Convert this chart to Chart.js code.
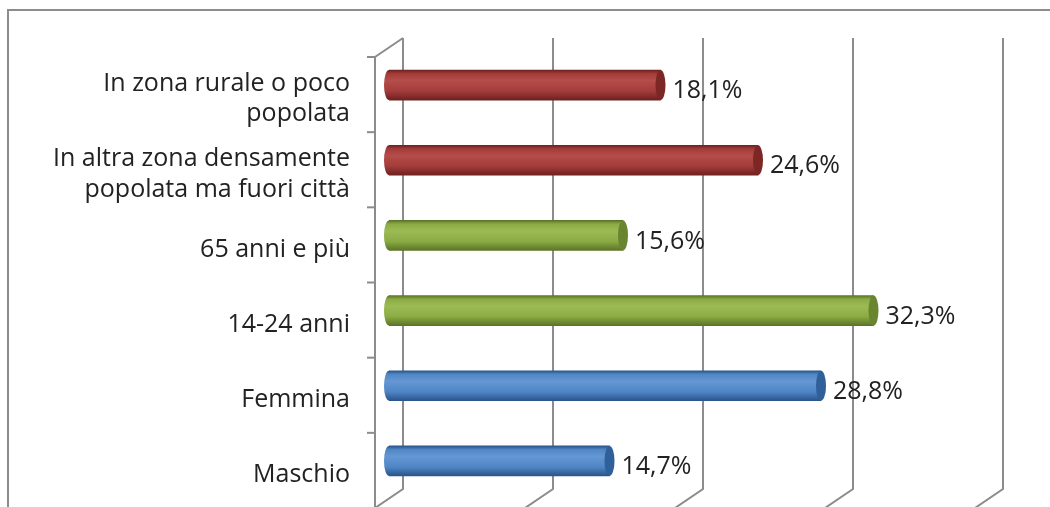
<!DOCTYPE html>
<html>
<head>
<meta charset="utf-8">
<script src="https://cdnjs.cloudflare.com/ajax/libs/Chart.js/4.4.1/chart.umd.min.js"></script>
<style>
  html, body { margin: 0; padding: 0; background: #fff; }
  #wrap { width: 1050px; height: 507px; position: relative; }
</style>
</head>
<body>
<div id="wrap"><canvas id="chart"></canvas></div>
<script>
// data (top to bottom)
const categories = [
  ['In zona rurale o poco', 'popolata'],
  ['In altra zona densamente', 'popolata ma fuori città'],
  '65 anni e più',
  '14-24 anni',
  'Femmina',
  'Maschio',
];
const values = [18.1, 24.6, 15.6, 32.3, 28.8, 14.7];
const groups = ['red', 'red', 'green', 'green', 'blue', 'blue'];

const COLORS = {
  red:   { dark: '#6e2120', body: '#a33c3a', light: '#b54d4a', cap: '#7c2725' },
  green: { dark: '#5c7428', body: '#8bab43', light: '#9cbb55', cap: '#6a8530' },
  blue:  { dark: '#2a548a', body: '#4f86c6', light: '#6597d3', cap: '#30609a' },
};

const DX = 14, DY = 9.5;       // half depth of the 3D box
const GRID = '#8c8c8c';
const FONT = '"Open Sans", "DejaVu Sans", sans-serif';
const FSIZE = 25;

function cylGradient(ctx, y, h, c) {
  if (!isFinite(y) || !isFinite(h)) return c.body;
  const g = ctx.createLinearGradient(0, y - h / 2, 0, y + h / 2);
  g.addColorStop(0, c.dark);
  g.addColorStop(0.12, c.body);
  g.addColorStop(0.35, c.light);
  g.addColorStop(0.7, c.body);
  g.addColorStop(1, c.dark);
  return g;
}

const box3d = {
  id: 'box3d',
  beforeDraw(chart) {
    const ctx = chart.ctx;
    ctx.save();
    ctx.strokeStyle = GRID;
    ctx.lineWidth = 2;
    ctx.beginPath();
    ctx.moveTo(8, 507); ctx.lineTo(8, 10); ctx.lineTo(1050, 10);
    ctx.stroke();
    ctx.restore();
  },
  beforeDatasetsDraw(chart) {
    const { ctx, chartArea: a, scales: { x } } = chart;
    ctx.save();
    ctx.strokeStyle = GRID;
    ctx.lineWidth = 2;
    // back walls + floor slants
    x.ticks.forEach(t => {
      const px = x.getPixelForValue(t.value);
      ctx.beginPath();
      ctx.moveTo(px + DX, a.top - DY);
      ctx.lineTo(px + DX, a.bottom - DY);
      ctx.lineTo(px - DX, a.bottom + DY);
      ctx.stroke();
    });
    // front axis
    const x0 = x.getPixelForValue(0) - DX;
    ctx.beginPath();
    ctx.moveTo(x0 + 2 * DX, a.top - DY);
    ctx.lineTo(x0, a.top + DY);
    ctx.lineTo(x0, a.bottom + DY);
    ctx.stroke();
    // category tick marks
    const n = categories.length;
    const step = (a.bottom - a.top) / n;
    for (let i = 0; i <= n; i++) {
      const ty = a.top + DY + i * step;
      ctx.beginPath();
      ctx.moveTo(x0 - 8, ty); ctx.lineTo(x0, ty);
      ctx.stroke();
    }
    // left rounded ends of the cylinders
    chart.getDatasetMeta(0).data.forEach((bar, i) => {
      const c = COLORS[groups[i]];
      ctx.fillStyle = cylGradient(ctx, bar.y, bar.height, c);
      ctx.beginPath();
      ctx.ellipse(bar.base, bar.y, 5, bar.height / 2, 0, 0, Math.PI * 2);
      ctx.fill();
    });
    ctx.restore();
  },
  afterDatasetsDraw(chart) {
    const ctx = chart.ctx;
    ctx.save();
    chart.getDatasetMeta(0).data.forEach((bar, i) => {
      const c = COLORS[groups[i]];
      ctx.fillStyle = c.cap;
      ctx.beginPath();
      ctx.ellipse(bar.x, bar.y, 5, bar.height / 2, 0, 0, Math.PI * 2);
      ctx.fill();
      ctx.fillStyle = '#222';
      ctx.font = FSIZE + 'px ' + FONT;
      ctx.textAlign = 'left';
      ctx.textBaseline = 'middle';
      ctx.fillText(values[i].toFixed(1).replace('.', ',') + '%', bar.x + 12, bar.y + 6);
    });
    ctx.restore();
  },
};

const chart = new Chart(document.getElementById('chart'), {
  type: 'bar',
  data: {
    labels: categories,
    datasets: [{
      data: values,
      barThickness: 30,
      borderWidth: 0,
      backgroundColor: (cx) => {
        const c = COLORS[groups[cx.dataIndex ?? 0]];
        const y = cx.chart.scales.y;
        if (!y || cx.dataIndex == null) return c.body;
        return cylGradient(cx.chart.ctx, y.getPixelForValue(cx.dataIndex), 30, c);
      },
    }],
  },
  options: {
    indexAxis: 'y',
    responsive: true,
    maintainAspectRatio: false,
    animation: false,
    layout: { padding: { left: 0, right: 61, top: 47.5, bottom: 8.5 } },
    plugins: { legend: { display: false }, tooltip: { enabled: false } },
    scales: {
      x: { display: false, min: 0, max: 40, ticks: { stepSize: 10 } },
      y: {
        grid: { display: false, drawTicks: false },
        border: { display: false },
        ticks: { color: '#222', font: { family: FONT, size: FSIZE, lineHeight: 1.22 }, padding: 39, labelOffset: 14 },
        afterFit: (s) => { s.width = 389; s.paddingTop = 0; s.paddingBottom = 0; },
      },
    },
  },
  plugins: [box3d],
});
chart.update();
</script>
</body>
</html>
